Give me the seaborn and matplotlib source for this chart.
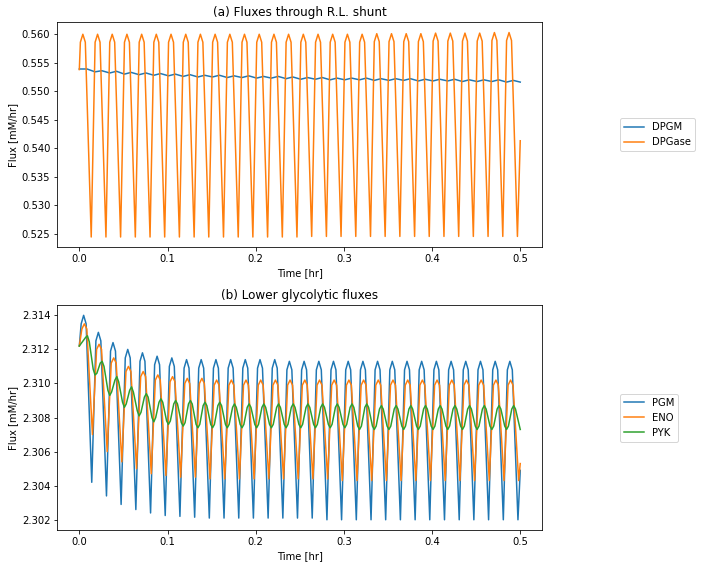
import numpy as np
import pandas as pd
import matplotlib
matplotlib.use("Agg")
import matplotlib.pyplot as plt
import seaborn as sns

# ---- (a) Fluxes through R.L. shunt: points ----
dpgase_start = (0.0, 0.5538)
dpgase_end = (0.5, 0.5413)
dpgase_peak_t = [0.0040, 0.0207, 0.0373, 0.0540, 0.0707, 0.0873, 0.1040, 0.1207, 0.1373, 0.1540,
                 0.1707, 0.1873, 0.2040, 0.2207, 0.2373, 0.2540, 0.2707, 0.2873, 0.3040, 0.3207,
                 0.3373, 0.3540, 0.3707, 0.3873, 0.4040, 0.4207, 0.4373, 0.4540, 0.4707, 0.4873]
dpgase_peak_v = [0.5600, 0.5600, 0.5600, 0.5600, 0.5600, 0.5600, 0.5600, 0.5600, 0.5600, 0.5600,
                 0.5600, 0.5600, 0.5600, 0.5600, 0.5600, 0.5600, 0.5600, 0.5600, 0.5600, 0.5600,
                 0.5601, 0.5601, 0.5601, 0.5601, 0.5602, 0.5602, 0.5602, 0.5602, 0.5603, 0.5603]
# shoulders either side of each rounded peak
dpgase_pre_t = [0.0012, 0.0179, 0.0345, 0.0512, 0.0679, 0.0845, 0.1012, 0.1179, 0.1345, 0.1512,
                0.1679, 0.1845, 0.2012, 0.2179, 0.2345, 0.2512, 0.2679, 0.2845, 0.3012, 0.3179,
                0.3345, 0.3512, 0.3679, 0.3845, 0.4012, 0.4179, 0.4345, 0.4512, 0.4679, 0.4845]
dpgase_post_t = [0.0068, 0.0235, 0.0401, 0.0568, 0.0735, 0.0901, 0.1068, 0.1235, 0.1401, 0.1568,
                 0.1735, 0.1901, 0.2068, 0.2235, 0.2401, 0.2568, 0.2735, 0.2901, 0.3068, 0.3235,
                 0.3401, 0.3568, 0.3735, 0.3901, 0.4068, 0.4235, 0.4401, 0.4568, 0.4735, 0.4901]
dpgase_shoulder_v = [0.5586, 0.5586, 0.5586, 0.5586, 0.5586, 0.5586, 0.5586, 0.5586, 0.5586, 0.5586,
                     0.5586, 0.5586, 0.5586, 0.5586, 0.5586, 0.5586, 0.5586, 0.5586, 0.5586, 0.5586,
                     0.5587, 0.5587, 0.5587, 0.5587, 0.5588, 0.5588, 0.5588, 0.5588, 0.5589, 0.5589]
dpgase_trough_t = [0.0135, 0.0302, 0.0468, 0.0635, 0.0802, 0.0968, 0.1135, 0.1302, 0.1468, 0.1635,
                   0.1802, 0.1968, 0.2135, 0.2302, 0.2468, 0.2635, 0.2802, 0.2968, 0.3135, 0.3302,
                   0.3468, 0.3635, 0.3802, 0.3968, 0.4135, 0.4302, 0.4468, 0.4635, 0.4802, 0.4968]
dpgase_trough_v = [0.5244, 0.5244, 0.5244, 0.5244, 0.5244, 0.5244, 0.5244, 0.5244, 0.5244, 0.5244,
                   0.5244, 0.5244, 0.5244, 0.5244, 0.5244, 0.5245, 0.5245, 0.5245, 0.5245, 0.5245,
                   0.5245, 0.5245, 0.5245, 0.5245, 0.5245, 0.5245, 0.5245, 0.5245, 0.5245, 0.5245]

dpgm_start = (0.0, 0.5539)
dpgm_end = (0.5, 0.5516)
dpgm_peak_t = [0.0088, 0.0255, 0.0421, 0.0588, 0.0755, 0.0921, 0.1088, 0.1255, 0.1421, 0.1588,
               0.1755, 0.1921, 0.2088, 0.2255, 0.2421, 0.2588, 0.2755, 0.2921, 0.3088, 0.3255,
               0.3421, 0.3588, 0.3755, 0.3921, 0.4088, 0.4255, 0.4421, 0.4588, 0.4755, 0.4921]
dpgm_peak_v = [0.5539, 0.5536, 0.5535, 0.5533, 0.5532, 0.5531, 0.5530, 0.5529, 0.5528, 0.5528,
               0.5527, 0.5527, 0.5526, 0.5526, 0.5525, 0.5524, 0.5524, 0.5523, 0.5523, 0.5523,
               0.5522, 0.5522, 0.5522, 0.5521, 0.5521, 0.5521, 0.5520, 0.5520, 0.5520, 0.5519]
dpgm_trough_t = [0.0178, 0.0345, 0.0511, 0.0678, 0.0845, 0.1011, 0.1178, 0.1345, 0.1511, 0.1678,
                 0.1845, 0.2011, 0.2178, 0.2345, 0.2511, 0.2678, 0.2845, 0.3011, 0.3178, 0.3345,
                 0.3511, 0.3678, 0.3845, 0.4011, 0.4178, 0.4345, 0.4511, 0.4678, 0.4845]
dpgm_trough_v = [0.5534, 0.5532, 0.5530, 0.5529, 0.5528, 0.5527, 0.5526, 0.5525, 0.5525, 0.5524,
                 0.5524, 0.5523, 0.5523, 0.5522, 0.5521, 0.5521, 0.5520, 0.5520, 0.5520, 0.5519,
                 0.5519, 0.5519, 0.5518, 0.5518, 0.5518, 0.5517, 0.5517, 0.5517, 0.5516]

# ---- (b) Lower glycolytic fluxes ----
pgm_start = (0.0, 2.3122)
pgm_end = (0.5, 2.3049)
pgm_peak_t = [0.0049, 0.0216, 0.0382, 0.0549, 0.0716, 0.0882, 0.1049, 0.1216, 0.1382, 0.1549,
              0.1716, 0.1882, 0.2049, 0.2216, 0.2382, 0.2549, 0.2716, 0.2882, 0.3049, 0.3216,
              0.3382, 0.3549, 0.3716, 0.3882, 0.4049, 0.4216, 0.4382, 0.4549, 0.4716, 0.4882]
pgm_peak_v = [2.3140, 2.3130, 2.3124, 2.3120, 2.3118, 2.3116, 2.3115, 2.3114, 2.3114, 2.3114,
              2.3114, 2.3114, 2.3114, 2.3114, 2.3113, 2.3113, 2.3113, 2.3113, 2.3113, 2.3113,
              2.3113, 2.3113, 2.3113, 2.3113, 2.3113, 2.3113, 2.3113, 2.3113, 2.3113, 2.3113]
pgm_pre_t = [0.0021, 0.0188, 0.0354, 0.0521, 0.0688, 0.0854, 0.1021, 0.1188, 0.1354, 0.1521,
             0.1688, 0.1854, 0.2021, 0.2188, 0.2354, 0.2521, 0.2688, 0.2854, 0.3021, 0.3188,
             0.3354, 0.3521, 0.3688, 0.3854, 0.4021, 0.4188, 0.4354, 0.4521, 0.4688, 0.4854]
pgm_post_t = [0.0077, 0.0244, 0.0410, 0.0577, 0.0744, 0.0910, 0.1077, 0.1244, 0.1410, 0.1577,
              0.1744, 0.1910, 0.2077, 0.2244, 0.2410, 0.2577, 0.2744, 0.2910, 0.3077, 0.3244,
              0.3410, 0.3577, 0.3744, 0.3910, 0.4077, 0.4244, 0.4410, 0.4577, 0.4744, 0.4910]
pgm_shoulder_v = [2.3135, 2.3125, 2.3119, 2.3115, 2.3113, 2.3111, 2.3110, 2.3109, 2.3109, 2.3109,
                  2.3109, 2.3109, 2.3109, 2.3109, 2.3108, 2.3108, 2.3108, 2.3108, 2.3108, 2.3108,
                  2.3108, 2.3108, 2.3108, 2.3108, 2.3108, 2.3108, 2.3108, 2.3108, 2.3108, 2.3108]
pgm_trough_t = [0.0141, 0.0308, 0.0474, 0.0641, 0.0808, 0.0974, 0.1141, 0.1308, 0.1474, 0.1641,
                0.1808, 0.1974, 0.2141, 0.2308, 0.2474, 0.2641, 0.2808, 0.2974, 0.3141, 0.3308,
                0.3474, 0.3641, 0.3808, 0.3974, 0.4141, 0.4308, 0.4474, 0.4641, 0.4808, 0.4974]
pgm_trough_v = [2.3042, 2.3034, 2.3029, 2.3026, 2.3024, 2.30225, 2.3022, 2.30215, 2.3021, 2.3021,
                2.3021, 2.3021, 2.3021, 2.3021, 2.3021, 2.3021, 2.3020, 2.3020, 2.3020, 2.3020,
                2.3020, 2.3020, 2.3020, 2.3020, 2.3020, 2.3020, 2.3020, 2.3020, 2.3020, 2.3020]

eno_start = (0.0, 2.3122)
eno_end = (0.5, 2.3053)
eno_peak_t = [0.0057, 0.0224, 0.0390, 0.0557, 0.0724, 0.0890, 0.1057, 0.1224, 0.1390, 0.1557,
              0.1724, 0.1890, 0.2057, 0.2224, 0.2390, 0.2557, 0.2724, 0.2890, 0.3057, 0.3224,
              0.3390, 0.3557, 0.3724, 0.3890, 0.4057, 0.4224, 0.4390, 0.4557, 0.4724, 0.4890]
eno_peak_v = [2.3135, 2.3123, 2.3115, 2.3110, 2.3107, 2.3105, 2.3104, 2.3103, 2.3103, 2.3102,
              2.3102, 2.3102, 2.3102, 2.3102, 2.3102, 2.3102, 2.3102, 2.3102, 2.3102, 2.3102,
              2.3102, 2.3102, 2.3102, 2.3102, 2.3102, 2.3102, 2.3102, 2.3102, 2.3102, 2.3102]
eno_pre_t = [0.0029, 0.0196, 0.0362, 0.0529, 0.0696, 0.0862, 0.1029, 0.1196, 0.1362, 0.1529,
             0.1696, 0.1862, 0.2029, 0.2196, 0.2362, 0.2529, 0.2696, 0.2862, 0.3029, 0.3196,
             0.3362, 0.3529, 0.3696, 0.3862, 0.4029, 0.4196, 0.4362, 0.4529, 0.4696, 0.4862]
eno_post_t = [0.0085, 0.0252, 0.0418, 0.0585, 0.0752, 0.0918, 0.1085, 0.1252, 0.1418, 0.1585,
              0.1752, 0.1918, 0.2085, 0.2252, 0.2418, 0.2585, 0.2752, 0.2918, 0.3085, 0.3252,
              0.3418, 0.3585, 0.3752, 0.3918, 0.4085, 0.4252, 0.4418, 0.4585, 0.4752, 0.4918]
eno_shoulder_v = [2.3132, 2.3120, 2.3112, 2.3107, 2.3104, 2.3102, 2.3101, 2.3100, 2.3100, 2.3099,
                  2.3099, 2.3099, 2.3099, 2.3099, 2.3099, 2.3099, 2.3099, 2.3099, 2.3099, 2.3099,
                  2.3099, 2.3099, 2.3099, 2.3099, 2.3099, 2.3099, 2.3099, 2.3099, 2.3099, 2.3099]
eno_trough_t = [0.0149, 0.0316, 0.0482, 0.0649, 0.0816, 0.0982, 0.1149, 0.1316, 0.1482, 0.1649,
                0.1816, 0.1982, 0.2149, 0.2316, 0.2482, 0.2649, 0.2816, 0.2982, 0.3149, 0.3316,
                0.3482, 0.3649, 0.3816, 0.3982, 0.4149, 0.4316, 0.4482, 0.4649, 0.4816, 0.4982]
eno_trough_v = [2.3070, 2.3060, 2.3054, 2.3050, 2.3047, 2.3046, 2.3045, 2.3045, 2.3044, 2.3044,
                2.3044, 2.3044, 2.3044, 2.3044, 2.3044, 2.3044, 2.3044, 2.3043, 2.3043, 2.3043,
                2.3043, 2.3043, 2.3043, 2.3043, 2.3043, 2.3043, 2.3043, 2.3043, 2.3043, 2.3043]

pyk_start = (0.0, 2.3122)
pyk_end = (0.5, 2.3073)
pyk_peak_t = [0.0092, 0.0259, 0.0425, 0.0592, 0.0759, 0.0925, 0.1092, 0.1259, 0.1425, 0.1592,
              0.1759, 0.1925, 0.2092, 0.2259, 0.2425, 0.2592, 0.2759, 0.2925, 0.3092, 0.3259,
              0.3425, 0.3592, 0.3759, 0.3925, 0.4092, 0.4259, 0.4425, 0.4592, 0.4759, 0.4925]
pyk_peak_v = [2.3128, 2.3113, 2.3104, 2.3098, 2.3094, 2.3091, 2.3090, 2.3090, 2.3089, 2.3089,
              2.3088, 2.3088, 2.3088, 2.3088, 2.3088, 2.3088, 2.3088, 2.3088, 2.3088, 2.3088,
              2.3087, 2.3087, 2.3087, 2.3087, 2.3087, 2.3087, 2.3087, 2.3087, 2.3087, 2.3087]
pyk_peak_pre_t = [0.0071, 0.0238, 0.0404, 0.0571, 0.0738, 0.0904, 0.1071, 0.1238, 0.1404, 0.1571,
                  0.1738, 0.1904, 0.2071, 0.2238, 0.2404, 0.2571, 0.2738, 0.2904, 0.3071, 0.3238,
                  0.3404, 0.3571, 0.3738, 0.3904, 0.4071, 0.4238, 0.4404, 0.4571, 0.4738, 0.4904]
pyk_peak_pre_v = [2.3127, 2.3112, 2.3102, 2.3096, 2.3092, 2.3089, 2.3088, 2.3088, 2.3087, 2.3087,
                  2.3086, 2.3086, 2.3086, 2.3086, 2.3086, 2.3086, 2.3086, 2.3086, 2.3086, 2.3086,
                  2.3085, 2.3085, 2.3085, 2.3085, 2.3085, 2.3085, 2.3085, 2.3085, 2.3085, 2.3085]
pyk_peak_post_t = [0.0113, 0.0280, 0.0446, 0.0613, 0.0780, 0.0946, 0.1113, 0.1280, 0.1446, 0.1613,
                   0.1780, 0.1946, 0.2113, 0.2280, 0.2446, 0.2613, 0.2780, 0.2946, 0.3113, 0.3280,
                   0.3446, 0.3613, 0.3780, 0.3946, 0.4113, 0.4280, 0.4446, 0.4613, 0.4780, 0.4946]
pyk_peak_post_v = [2.31245, 2.3110, 2.3101, 2.3095, 2.3092, 2.3089, 2.3088, 2.3088, 2.3087, 2.3087,
                   2.3086, 2.3086, 2.3086, 2.3086, 2.3086, 2.3086, 2.3086, 2.3086, 2.3086, 2.3086,
                   2.3085, 2.3085, 2.3085, 2.3085, 2.3085, 2.3085, 2.3085, 2.3085, 2.3085, 2.3085]
pyk_trough_t = [0.0178, 0.0345, 0.0511, 0.0678, 0.0845, 0.1011, 0.1178, 0.1345, 0.1511, 0.1678,
                0.1845, 0.2011, 0.2178, 0.2345, 0.2511, 0.2678, 0.2845, 0.3011, 0.3178, 0.3345,
                0.3511, 0.3678, 0.3845, 0.4011, 0.4178, 0.4345, 0.4511, 0.4678, 0.4845]
pyk_trough_v = [2.3105, 2.3093, 2.3086, 2.3081, 2.30775, 2.3076, 2.3075, 2.3074, 2.3074, 2.3074,
                2.3074, 2.3074, 2.3074, 2.3074, 2.3074, 2.3074, 2.3074, 2.3074, 2.3073, 2.3073,
                2.3073, 2.3073, 2.3073, 2.3073, 2.3073, 2.3073, 2.3073, 2.3073, 2.3073]
pyk_trough_pre_t = [0.0157, 0.0324, 0.0490, 0.0657, 0.0824, 0.0990, 0.1157, 0.1324, 0.1490, 0.1657,
                    0.1824, 0.1990, 0.2157, 0.2324, 0.2490, 0.2657, 0.2824, 0.2990, 0.3157, 0.3324,
                    0.3490, 0.3657, 0.3824, 0.3990, 0.4157, 0.4324, 0.4490, 0.4657, 0.4824, 0.4990]
pyk_trough_pre_v = [2.31085, 2.3096, 2.3089, 2.3084, 2.3080, 2.3078, 2.3077, 2.3076, 2.3076, 2.3076,
                    2.3076, 2.3076, 2.3076, 2.3076, 2.3076, 2.3076, 2.3076, 2.3076, 2.3075, 2.3075,
                    2.3075, 2.3075, 2.3075, 2.3075, 2.3075, 2.3075, 2.3075, 2.3075, 2.3075, 2.3075]
pyk_trough_post_t = [0.0199, 0.0366, 0.0532, 0.0699, 0.0866, 0.1032, 0.1199, 0.1366, 0.1532, 0.1699,
                     0.1866, 0.2032, 0.2199, 0.2366, 0.2532, 0.2699, 0.2866, 0.3032, 0.3199, 0.3366,
                     0.3532, 0.3699, 0.3866, 0.4032, 0.4199, 0.4366, 0.4532, 0.4699, 0.4866]
pyk_trough_post_v = [2.3106, 2.3095, 2.3088, 2.3083, 2.3080, 2.3078, 2.3077, 2.3076, 2.3076, 2.3076,
                     2.3076, 2.3076, 2.3076, 2.3076, 2.3076, 2.3076, 2.3076, 2.3076, 2.3075, 2.3075,
                     2.3075, 2.3075, 2.3075, 2.3075, 2.3075, 2.3075, 2.3075, 2.3075, 2.3075]


def series_frame(name, start, end, *parts):
    """Stack the read-off (times, values) pieces of one flux into a sorted table."""
    t = [start[0], end[0]]
    v = [start[1], end[1]]
    for part_t, part_v in parts:
        t += list(part_t)
        v += list(part_v)
    df = pd.DataFrame({"Time [hr]": t, "Flux [mM/hr]": v})
    df["Flux"] = name
    return df.sort_values("Time [hr]")


shunt = pd.concat([
    series_frame("DPGM", dpgm_start, dpgm_end,
                 (dpgm_peak_t, dpgm_peak_v), (dpgm_trough_t, dpgm_trough_v)),
    series_frame("DPGase", dpgase_start, dpgase_end,
                 (dpgase_peak_t, dpgase_peak_v), (dpgase_trough_t, dpgase_trough_v),
                 (dpgase_pre_t, dpgase_shoulder_v), (dpgase_post_t, dpgase_shoulder_v)),
], ignore_index=True)

lower = pd.concat([
    series_frame("PGM", pgm_start, pgm_end,
                 (pgm_peak_t, pgm_peak_v), (pgm_trough_t, pgm_trough_v),
                 (pgm_pre_t, pgm_shoulder_v), (pgm_post_t, pgm_shoulder_v)),
    series_frame("ENO", eno_start, eno_end,
                 (eno_peak_t, eno_peak_v), (eno_trough_t, eno_trough_v),
                 (eno_pre_t, eno_shoulder_v), (eno_post_t, eno_shoulder_v)),
    series_frame("PYK", pyk_start, pyk_end,
                 (pyk_peak_t, pyk_peak_v), (pyk_trough_t, pyk_trough_v),
                 (pyk_peak_pre_t, pyk_peak_pre_v), (pyk_peak_post_t, pyk_peak_post_v),
                 (pyk_trough_pre_t, pyk_trough_pre_v), (pyk_trough_post_t, pyk_trough_post_v)),
], ignore_index=True)

fig, axes = plt.subplots(2, 1, figsize=(701 / 72, 568 / 72), dpi=72)
fig.subplots_adjust(left=0.0817, right=0.7736, top=0.9607, bottom=0.0669, hspace=0.2573)

panels = [
    (axes[0], shunt, ["DPGM", "DPGase"], "(a) Fluxes through R.L. shunt"),
    (axes[1], lower, ["PGM", "ENO", "PYK"], "(b) Lower glycolytic fluxes"),
]
for ax, df, order, title in panels:
    sns.lineplot(data=df, x="Time [hr]", y="Flux [mM/hr]", hue="Flux",
                 hue_order=order, palette="tab10", estimator=None,
                 sort=False, linewidth=1.5, ax=ax)
    ax.set_title(title)
    ax.ticklabel_format(axis="y", useOffset=False)
    sns.move_legend(ax, "center left", bbox_to_anchor=(1.15, 0.5), title=None)

fig.savefig("out.png", dpi=72)
